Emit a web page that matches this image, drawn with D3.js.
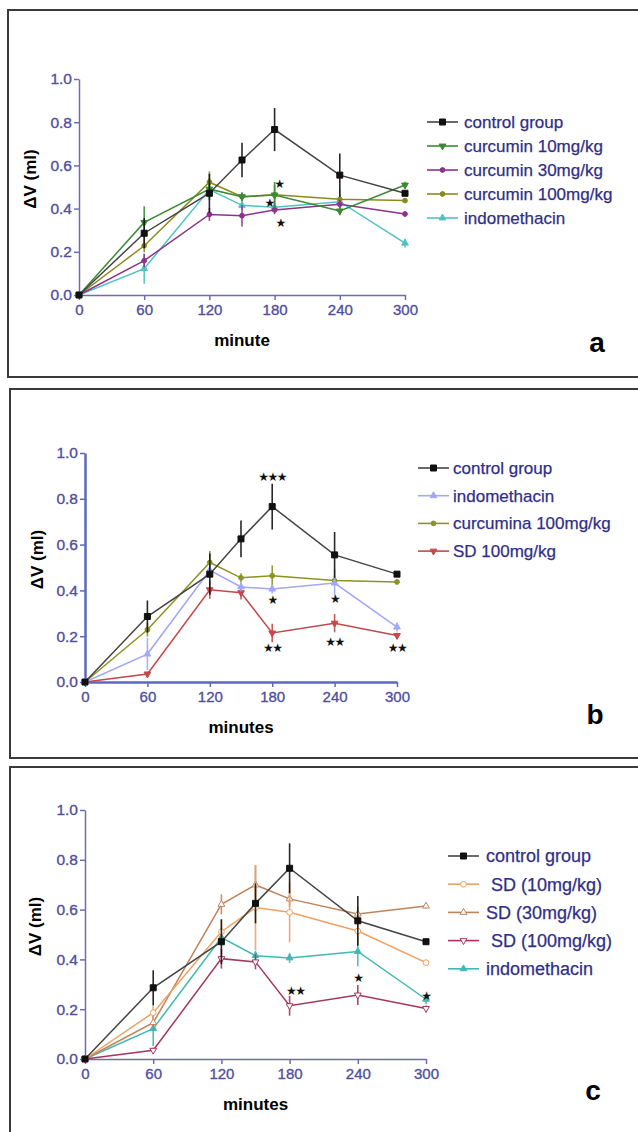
<!DOCTYPE html>
<html>
<head>
<meta charset="utf-8">
<script src="https://cdn.jsdelivr.net/npm/d3@7"></script>
<style>
  body { margin: 0; background: #fff; }
  text { font-family: Arial, "Liberation Sans", sans-serif; }
</style>
</head>
<body>
<svg width="638" height="1132"></svg>
<script>
// time points (minutes) and axis ticks
var minutes = [0, 60, 120, 150, 180, 240, 300]
var xTicks = [0, 60, 120, 180, 240, 300]
var yTicks = [0, 0.2, 0.4, 0.6, 0.8, 1.0]

// mean paw volume change (ml) and error bars
var controlMean = [0, 0.286, 0.471, 0.625, 0.766, 0.555, 0.471]
var controlSE = [0, 0.07, 0.09, 0.08, 0.1, 0.1, 0.012]

var cur10Mean = [0, 0.336, 0.49, 0.455, 0.463, 0.389, 0.509]
var cur10SE = [0, 0.075, 0.05, 0.02, 0.06, 0.02, 0.015]
var cur30Mean = [0, 0.159, 0.373, 0.367, 0.394, 0.42, 0.375]
var cur30SE = [0, 0.03, 0.03, 0.05, 0.02, 0.02, 0.01]
var cur100Mean = [0, 0.228, 0.522, 0.455, 0.464, 0.443, 0.437]
var cur100SE = [0, 0.03, 0.05, 0.02, 0.045, 0.02, 0.01]
var indoMean = [0, 0.122, 0.488, 0.415, 0.406, 0.432, 0.24]
var indoSE = [0, 0.07, 0.03, 0.02, 0.02, 0.06, 0.02]

var sd10Mean = [0, 0.186, 0.511, 0.608, 0.589, 0.514, 0.387]
var sd10SE = [0, 0.03, 0.05, 0.17, 0.12, 0.05, 0.01]
var sd30Mean = [0, 0.146, 0.621, 0.699, 0.643, 0.582, 0.614]
var sd30SE = [0, 0.03, 0.04, 0.08, 0.03, 0.03, 0.01]
var sd100Mean = [0, 0.035, 0.403, 0.39, 0.214, 0.257, 0.203]
var sd100SE = [0, 0.01, 0.04, 0.03, 0.04, 0.04, 0.012]

// significance marks: [minute, value, text]
var starsA = [[184, 0.515, "★"], [175, 0.425, "★"], [185, 0.335, "★"]]
var starsB = [[180, 0.895, "★★★"], [180, 0.36, "★"], [180, 0.15, "★★"],
              [240, 0.365, "★"], [240, 0.175, "★★"], [300, 0.15, "★★"]]
var starsC = [[185, 0.275, "★★"], [240, 0.325, "★"], [300, 0.255, "★"]]

var svg = d3.select("svg")

function tri(down) {
    return function (g, color, open, size) {
        g.append("path")
            .attr("d", d3.symbol().type(d3.symbolTriangle).size(size || 20)())
            .attr("transform", down ? "rotate(180)" : null)
            .style("fill", open ? "#fff" : color)
            .style("stroke", color).style("stroke-width", 1)
    }
}
function sym(type, size) {
    return function (g, color, open) {
        g.append("path")
            .attr("d", d3.symbol().type(type).size(size)())
            .style("fill", open ? "#fff" : color)
            .style("stroke", color).style("stroke-width", 1)
    }
}

//draws one boxed panel
function drawPanel(p) {
    var g = svg.append("g")

    g.append("rect")
        .attr("x", p.frame[0]).attr("y", p.frame[1])
        .attr("width", 700).attr("height", p.frame[2])
        .style("fill", "none").style("stroke", "#3a3a3a").style("stroke-width", 2)

    var x = d3.scaleLinear().domain([0, 300]).range([p.x0, p.x1])
    var y = d3.scaleLinear().domain([0, 1]).range([p.y0, p.y1])

    var xa = g.append("g").attr("transform", "translate(0," + p.y0 + ")")
        .call(d3.axisBottom(x).tickValues(xTicks).tickSize(5).tickSizeOuter(0).tickPadding(4))
    var ya = g.append("g").attr("transform", "translate(" + p.x0 + ",0)")
        .call(d3.axisLeft(y).tickValues(yTicks).tickSize(5).tickSizeOuter(0).tickPadding(2)
            .tickFormat(d3.format(".1f")))
    ;[xa, ya].forEach(function (a) {
        a.select(".domain").style("stroke", p.axisColor).style("stroke-width", p.axisWidth)
        a.selectAll(".tick line").style("stroke", p.axisColor).style("stroke-width", 1.5)
        a.selectAll("text").style("fill", "#4f4f9e")
            .style("stroke", "#4f4f9e").style("stroke-width", 0.35)
            .style("font-family", "Arial, 'Liberation Sans', sans-serif")
    })
    xa.selectAll("text").style("font-size", "15px")
    ya.selectAll("text").style("font-size", "15.5px")

    //axis titles
    g.append("text")
        .attr("x", (p.x0 + p.x1) / 2).attr("y", p.y0 + 51)
        .style("text-anchor", "middle").style("font-weight", "bold").style("font-size", "17px")
        .text(p.xTitle)
    g.append("text")
        .attr("transform", "translate(" + p.yTitleX + "," + ((p.y0 + p.y1) / 2 - 8) + ") rotate(-90)")
        .attr("dy", "0.35em")
        .style("text-anchor", "middle").style("font-weight", "bold").style("font-size", "17px")
        .text("ΔV (ml)")

    var line = d3.line()
        .x(function (d) { return x(d[0]) })
        .y(function (d) { return y(d[1]) })

    //draw series back to front so control ends up on top
    p.series.slice().reverse().forEach(function (s) {
        var pts = minutes.map(function (m, i) { return [m, s.mean[i], s.se[i]] })
        var sg = g.append("g")
        sg.selectAll(".err").data(pts.filter(function (d) { return d[2] > 0 }))
            .enter().append("line")
            .attr("x1", function (d) { return x(d[0]) }).attr("x2", function (d) { return x(d[0]) })
            .attr("y1", function (d) { return y(d[1] - d[2]) }).attr("y2", function (d) { return y(d[1] + d[2]) })
            .style("stroke", s.color).style("stroke-width", 1.6).style("opacity", 0.9)
        sg.append("path").attr("d", line(pts))
            .style("fill", "none").style("stroke", s.lineColor || s.color).style("stroke-width", 1.5)
        pts.forEach(function (d) {
            var mg = sg.append("g").attr("transform", "translate(" + x(d[0]) + "," + y(d[1]) + ")")
            s.marker(mg, s.color, s.open)
        })
    })

    //significance stars
    g.selectAll(".star").data(p.stars).enter().append("text")
        .attr("x", function (d) { return x(d[0]) })
        .attr("y", function (d) { return y(d[1]) })
        .attr("dy", "0.35em")
        .style("text-anchor", "middle").style("font-size", "12px")
        .style("font-family", "'DejaVu Sans', sans-serif")
        .style("letter-spacing", "-1.5px")
        .style("fill", "#111")
        .text(function (d) { return d[2] })

    //legend
    p.series.forEach(function (s, i) {
        var ly = p.legend[1] + i * p.legend[2]
        g.append("line")
            .attr("x1", p.legend[0]).attr("x2", p.legend[0] + 31)
            .attr("y1", ly).attr("y2", ly)
            .style("stroke", s.lineColor || s.color).style("stroke-width", 1.6)
        var mg = g.append("g").attr("transform", "translate(" + (p.legend[0] + 15.5) + "," + ly + ")")
        s.marker(mg, s.color, s.open)
        g.append("text")
            .attr("x", p.legend[0] + p.legend[3]).attr("y", ly).attr("dy", "0.35em")
            .style("font-size", p.legend[4] + "px").style("fill", "#2f2f88")
            .style("stroke", "#2f2f88").style("stroke-width", 0.25)
            .style("white-space", "pre")
            .text(s.name)
    })

    g.append("text")
        .attr("x", p.tag[0]).attr("y", p.tag[1])
        .style("text-anchor", "middle").style("font-weight", "bold").style("font-size", "28px")
        .text(p.tag[2])
}

var square = sym(d3.symbolSquare, 36)
var dot = sym(d3.symbolCircle, 18)
var ring = sym(d3.symbolCircle, 26)

var control = { name: "control group", mean: controlMean, se: controlSE, color: "#111", lineColor: "#444", marker: square }

drawPanel({
    frame: [8, 10, 367], x0: 79, x1: 405, y0: 295, y1: 79,
    axisColor: "#6c6cb4", axisWidth: 1.5, xTitle: "minute", yTitleX: 30,
    legend: [427, 122, 24, 37, 17], tag: [597, 352, "a"], stars: starsA,
    series: [
        control,
        { name: "curcumin 10mg/kg", mean: cur10Mean, se: cur10SE, color: "#3b8a36", marker: tri(true) },
        { name: "curcumin 30mg/kg", mean: cur30Mean, se: cur30SE, color: "#8b348b", marker: dot },
        { name: "curcumin 100mg/kg", mean: cur100Mean, se: cur100SE, color: "#8a8a1e", marker: dot },
        { name: "indomethacin", mean: indoMean, se: indoSE, color: "#4fc3c3", marker: tri(false) }
    ]
})

drawPanel({
    frame: [10, 389, 369], x0: 85, x1: 397, y0: 682, y1: 453,
    axisColor: "#5b68bd", axisWidth: 2.5, xTitle: "minutes", yTitleX: 37,
    legend: [418, 468, 27.7, 35, 17], tag: [595, 724, "b"], stars: starsB,
    series: [
        control,
        { name: "indomethacin", mean: indoMean, se: indoSE, color: "#a3a8f5", marker: tri(false) },
        { name: "curcumina 100mg/kg", mean: cur100Mean, se: cur100SE, color: "#8a9420", marker: dot },
        { name: "SD 100mg/kg", mean: sd100Mean, se: sd100SE, color: "#c4484a", marker: tri(true) }
    ]
})

drawPanel({
    frame: [10, 767, 400], x0: 85, x1: 426, y0: 1059, y1: 810,
    axisColor: "#6c6cb0", axisWidth: 1.5, xTitle: "minutes", yTitleX: 35,
    legend: [448, 856, 28.2, 38, 18], tag: [593, 1100, "c"], stars: starsC,
    series: [
        control,
        { name: " SD (10mg/kg)", mean: sd10Mean, se: sd10SE, color: "#f0a060", open: true, marker: ring },
        { name: "SD (30mg/kg)", mean: sd30Mean, se: sd30SE, color: "#c0845a", open: true, marker: tri(false) },
        { name: " SD (100mg/kg)", mean: sd100Mean, se: sd100SE, color: "#a3385a", open: true, marker: tri(true) },
        { name: "indomethacin", mean: indoMean, se: indoSE, color: "#42b8b2", marker: tri(false) }
    ]
})
</script>
</body>
</html>
